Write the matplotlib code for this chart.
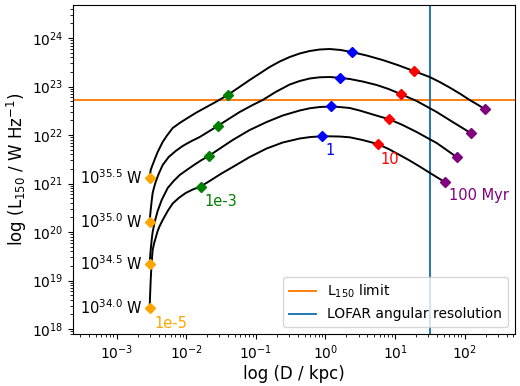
import numpy as np
import matplotlib.pyplot as plt
from matplotlib.ticker import NullFormatter

# tracks: log10(D / kpc) and log10(L150 / W Hz^-1)
track1_logd = [-2.526, -2.519, -2.511, -2.490, -2.468, -2.440, -2.411, -2.382, -2.339,
               -2.282, -2.195, -2.095, -1.994, -1.865, -1.736, -1.578, -1.405, -1.247,
               -1.089, -0.945, -0.802, -0.658, -0.514, -0.371, -0.227, -0.083, 0.060,
               0.218, 0.376, 0.592, 0.822, 1.037, 1.267, 1.497, 1.641, 1.784, 1.928,
               2.072, 2.187, 2.287]
track1_logl = [21.113, 21.196, 21.278, 21.361, 21.443, 21.546, 21.649, 21.732, 21.856,
               21.979, 22.144, 22.247, 22.340, 22.454, 22.557, 22.680, 22.825, 22.979,
               23.134, 23.268, 23.402, 23.515, 23.608, 23.680, 23.732, 23.763, 23.773,
               23.753, 23.711, 23.639, 23.546, 23.443, 23.320, 23.196, 23.093, 22.979,
               22.856, 22.722, 22.625, 22.536]

track2_logd = [-2.526, -2.519, -2.511, -2.497, -2.483, -2.461, -2.440, -2.397, -2.339,
               -2.253, -2.152, -2.052, -1.937, -1.807, -1.678, -1.549, -1.391, -1.233,
               -1.060, -0.902, -0.716, -0.514, -0.371, -0.227, -0.083, 0.060, 0.204,
               0.348, 0.534, 0.736, 0.908, 1.080, 1.310, 1.454, 1.598, 1.713, 1.828,
               1.957, 2.086]
track2_logl = [20.206, 20.330, 20.454, 20.639, 20.804, 20.928, 21.031, 21.196, 21.381,
               21.546, 21.670, 21.773, 21.866, 21.959, 22.072, 22.186, 22.330, 22.474,
               22.608, 22.722, 22.887, 23.041, 23.113, 23.165, 23.190, 23.196, 23.179,
               23.155, 23.103, 23.031, 22.948, 22.845, 22.701, 22.588, 22.474, 22.371,
               22.268, 22.155, 22.041]

track3_logd = [-2.526, -2.519, -2.511, -2.504, -2.497, -2.483, -2.454, -2.411, -2.353,
               -2.267, -2.181, -2.095, -1.994, -1.879, -1.779, -1.678, -1.506, -1.333,
               -1.089, -0.845, -0.615, -0.371, -0.227, -0.083, 0.075, 0.204, 0.348,
               0.491, 0.635, 0.779, 0.908, 1.109, 1.310, 1.454, 1.598, 1.741, 1.885]
track3_logl = [19.340, 19.485, 19.629, 19.732, 19.835, 20.000, 20.206, 20.433, 20.660,
               20.907, 21.052, 21.175, 21.278, 21.392, 21.485, 21.567, 21.732, 21.897,
               22.103, 22.268, 22.402, 22.505, 22.551, 22.577, 22.588, 22.577, 22.557,
               22.505, 22.443, 22.381, 22.330, 22.206, 22.062, 21.948, 21.835, 21.691,
               21.546]

track4_logd = [-2.526, -2.519, -2.511, -2.497, -2.483, -2.461, -2.440, -2.411, -2.382,
               -2.339, -2.267, -2.195, -2.109, -2.009, -1.908, -1.793, -1.664, -1.506,
               -1.333, -1.089, -0.845, -0.615, -0.371, -0.213, -0.055, 0.060, 0.204,
               0.348, 0.534, 0.750, 0.908, 1.066, 1.210, 1.353, 1.526, 1.713]
track4_logl = [18.433, 18.722, 19.010, 19.381, 19.629, 19.773, 19.876, 20.021, 20.124,
               20.247, 20.433, 20.588, 20.701, 20.804, 20.876, 20.938, 21.052, 21.196,
               21.340, 21.546, 21.722, 21.845, 21.928, 21.959, 21.973, 21.973, 21.969,
               21.953, 21.897, 21.814, 21.711, 21.588, 21.474, 21.351, 21.196, 21.031]

# ages along each track (top to bottom)
age_1e5_logd = [-2.526, -2.526, -2.526, -2.526]
age_1e5_logl = [21.113, 20.206, 19.340, 18.433]
age_1e3_logd = [-1.405, -1.549, -1.678, -1.793]
age_1e3_logl = [22.825, 22.186, 21.567, 20.938]
age_1_logd = [0.376, 0.204, 0.075, -0.055]
age_1_logl = [23.711, 23.179, 22.588, 21.973]
age_10_logd = [1.267, 1.080, 0.908, 0.750]
age_10_logl = [23.320, 22.845, 22.330, 21.814]
age_100_logd = [2.287, 2.086, 1.885, 1.713]
age_100_logl = [22.536, 22.041, 21.546, 21.031]

age_labels = ['1e-5', '1e-3', '1', '10', '100 Myr']
age_colors = ['orange', 'green', 'blue', 'red', 'purple']
power_labels = ['$10^{35.5}$ W', '$10^{35.0}$ W', '$10^{34.5}$ W', '$10^{34.0}$ W']

l150_limit = 10**22.73
lofar_resolution = 10**1.50

fig, ax = plt.subplots(figsize=(5.2, 3.86), dpi=100)
fig.subplots_adjust(left=0.140, right=0.990, top=0.987, bottom=0.135)

for td, tl in [(track1_logd, track1_logl), (track2_logd, track2_logl),
               (track3_logd, track3_logl), (track4_logd, track4_logl)]:
    ax.plot(10**np.array(td), 10**np.array(tl), color='black', lw=1.4, zorder=2)

ages = [(age_1e5_logd, age_1e5_logl), (age_1e3_logd, age_1e3_logl),
        (age_1_logd, age_1_logl), (age_10_logd, age_10_logl),
        (age_100_logd, age_100_logl)]
for (ad, al), c in zip(ages, age_colors):
    ax.plot(10**np.array(ad), 10**np.array(al), 'D', color=c, ms=5.5,
            ls='none', zorder=3)

ax.axhline(l150_limit, color='C1', lw=1.4, label='L$_{150}$ limit', zorder=1)
ax.axvline(lofar_resolution, color='C0', lw=1.4, label='LOFAR angular resolution', zorder=1)

# jet power labels next to the starting points
for d, l, txt in zip(age_1e5_logd, age_1e5_logl, power_labels):
    ax.annotate(txt, (10**d, 10**l), xytext=(-5, 0), textcoords='offset points',
                ha='right', va='center', fontsize=10.5)

# age labels under the lowest track
offsets = [(3.5, -11, 'left'), (3, -11, 'left'), (6, -10.5, 'center'),
           (9, -11, 'center'), (3, -10, 'left')]
for (ad, al), c, txt, (ox, oy, ha) in zip(ages, age_colors, age_labels, offsets):
    ax.annotate(txt, (10**ad[-1], 10**al[-1]), xytext=(ox, oy),
                textcoords='offset points', ha=ha, va='center',
                fontsize=10.5, color=c)

ax.set_xscale('log')
ax.set_yscale('log')
ax.set_xlim(10**-3.63, 10**2.72)
ax.set_ylim(10**17.9, 10**24.68)
ax.xaxis.set_minor_formatter(NullFormatter())
ax.yaxis.set_minor_formatter(NullFormatter())
ax.tick_params(labelsize=10)
ax.set_xlabel('log (D / kpc)', fontsize=12, labelpad=2)
ax.set_ylabel('log (L$_{150}$ / W Hz$^{-1}$)', fontsize=12, labelpad=2)
ax.legend(loc='lower right', fontsize=10)

fig.savefig('out.png', dpi=100)
